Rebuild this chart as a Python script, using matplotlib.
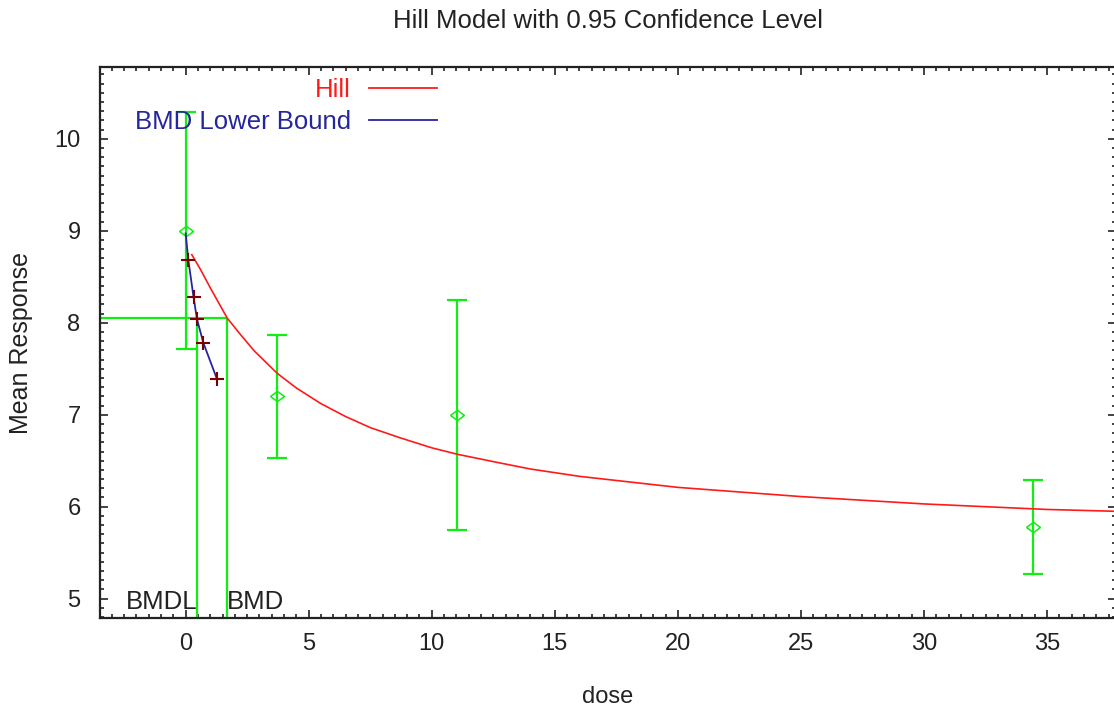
import numpy as np
import matplotlib
matplotlib.use("Agg")
import matplotlib.pyplot as plt
from matplotlib.lines import Line2D
from matplotlib.ticker import MultipleLocator

plt.rcParams["font.family"] = ["Liberation Sans", "DejaVu Sans"]

# ── data ───────────────────────────────────────────────────────────────
dose = [0.0, 3.72, 11.04, 34.44]
mean_resp = [9.0, 7.2, 7.0, 5.78]
err = [1.29, 0.67, 1.25, 0.51]

# fitted Hill curve
hill_dose = [0.25, 0.6, 1.0, 1.69, 2.2, 2.8, 3.72, 4.5, 5.5, 6.5, 7.5, 8.7,
             10.0, 11.04, 12.5, 14.0, 16.0, 18.0, 20.0, 22.5, 25.0, 27.5,
             30.0, 32.5, 35.0, 37.8]
hill_resp = [8.74, 8.58, 8.38, 8.05, 7.88, 7.69, 7.45, 7.29, 7.12, 6.98, 6.86,
             6.75, 6.64, 6.57, 6.49, 6.41, 6.33, 6.27, 6.21, 6.16, 6.11, 6.07,
             6.03, 6.00, 5.97, 5.95]

# BMD lower bound curve
lb_dose = [0.0, 0.11, 0.32, 0.46, 0.72, 1.27]
lb_resp = [8.97, 8.68, 8.28, 8.04, 7.78, 7.39]

bmdl = 0.47
bmd = 1.69
bmr_resp = 8.05

XLIM = (-3.48, 37.8)
YLIM = (4.79, 10.78)

GREEN = "#11ee11"
RED = "#ff1a1a"
BLUE = "#26269c"
DARKRED = "#7a0000"
TXT = "#222222"
FS = 17

fig = plt.figure(figsize=(11.14, 7.09), dpi=100)
ax = fig.add_axes([100 / 1114, 1 - 618 / 709, 1016 / 1114, 551 / 709])

# BMD / BMDL markers
ax.vlines([bmdl, bmd], YLIM[0], bmr_resp, color=GREEN, lw=1.6, zorder=2)
ax.hlines(bmr_resp, XLIM[0], bmd, color=GREEN, lw=1.6, zorder=2)

# observed means with error bars
diamond = [(-1, 0), (0, 0.75), (1, 0), (0, -0.75), (-1, 0)]
ax.errorbar(dose, mean_resp, yerr=err, fmt="none", ecolor=GREEN,
            elinewidth=1.6, capsize=7.5, capthick=1.6, zorder=3)
ax.plot(dose, mean_resp, ls="none", marker=diamond, ms=10, mfc="none",
        mec=GREEN, mew=1.1, zorder=4)

# model curves
ax.plot(hill_dose, hill_resp, color=RED, lw=1.2, zorder=5)
ax.plot(lb_dose, lb_resp, color=BLUE, lw=1.3, zorder=5)
ax.plot(lb_dose[1:], lb_resp[1:], ls="none", marker="+", ms=10, mew=1.5,
        color=DARKRED, zorder=6)

ax.text(bmdl, YLIM[0] + 0.04, "BMDL", ha="right", va="bottom",
        fontsize=18.5, color=TXT)
ax.text(bmd, YLIM[0] + 0.04, "BMD", ha="left", va="bottom",
        fontsize=18.5, color=TXT)

ax.set_xlim(*XLIM)
ax.set_ylim(*YLIM)
ax.xaxis.set_major_locator(MultipleLocator(5))
ax.xaxis.set_minor_locator(MultipleLocator(0.5))
ax.yaxis.set_major_locator(MultipleLocator(1))
ax.yaxis.set_minor_locator(MultipleLocator(0.1))
ax.tick_params(which="both", direction="in", top=True, right=True,
               colors=TXT, labelsize=FS)
ax.tick_params(which="major", length=6, width=1.2)
ax.tick_params(which="minor", length=3, width=1.2)
ax.tick_params(axis="x", pad=11)
ax.tick_params(axis="y", pad=14)
for s in ax.spines.values():
    s.set_color(TXT)
    s.set_linewidth(1.6)

ax.set_xlabel("dose", fontsize=FS, color=TXT, labelpad=22)
ax.set_ylabel("Mean Response", fontsize=18, color=TXT, labelpad=15)
ax.set_title("Hill Model with 0.95 Confidence Level", fontsize=18.5,
             color=TXT, pad=28)

handles = [Line2D([], [], color=RED, lw=1.3, label="Hill"),
           Line2D([], [], color=BLUE, lw=1.3, label="BMD Lower Bound")]
ax.legend(handles=handles, loc="upper right", bbox_to_anchor=(0.342, 0.999),
          frameon=False, markerfirst=False, labelcolor="linecolor",
          fontsize=18.5, handlelength=2.65, handletextpad=0.7,
          labelspacing=0.3, borderaxespad=0.0)

fig.savefig("out.png", dpi=100)
